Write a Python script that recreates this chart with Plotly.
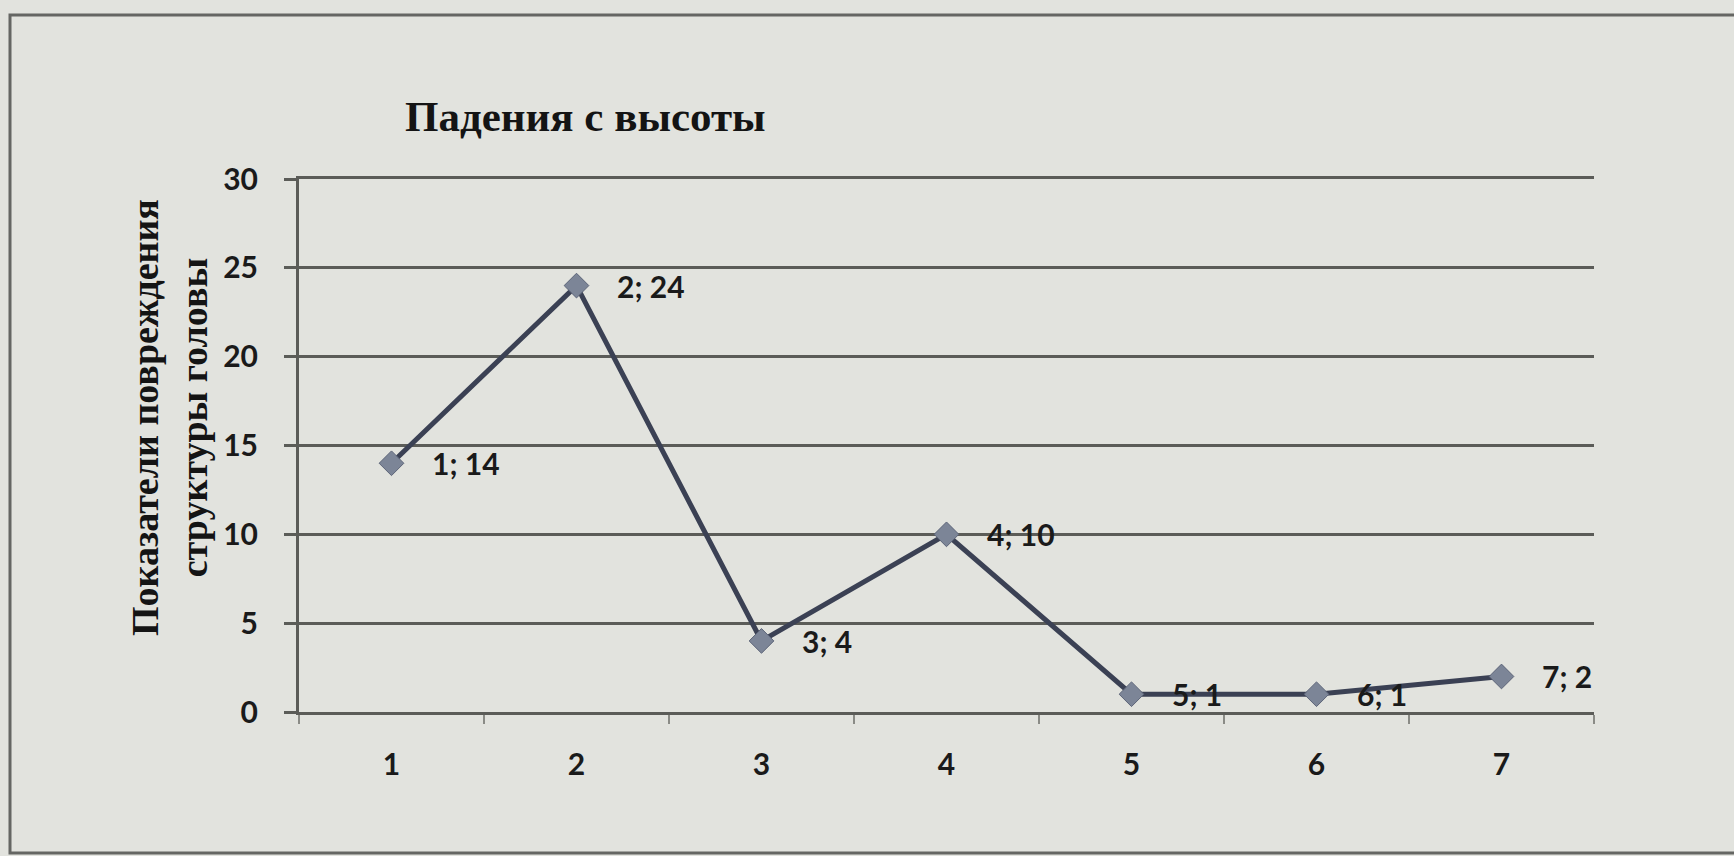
import plotly.graph_objects as go

# Падения с высоты — значения по категориям
categories = [1, 2, 3, 4, 5, 6, 7]
values = [14, 24, 4, 10, 1, 1, 2]
labels = [f"{c}; {v}" for c, v in zip(categories, values)]
y_ticks = [0, 5, 10, 15, 20, 25, 30]

title_text = "Падения с высоты"
y_title_text = "Показатели повреждения<br>структуры головы"

W, H = 1734, 856
L, R, T, B = 299, 140, 179, 144
plot_w = W - L - R
plot_h = H - T - B


def px_x(p):
    return (p - L) / plot_w


def px_y(p):
    return (H - B - p) / plot_h


bg = "#e2e3de"
grid = "#5b5c58"
sans = "Lato"
serif = "Liberation Serif"

fig = go.Figure()
fig.add_trace(go.Scatter(
    x=categories,
    y=values,
    mode="lines+markers",
    line=dict(color="#3b4154", width=5),
    marker=dict(symbol="diamond", size=19, color="#7c8597",
                line=dict(color="#5c6478", width=1)),
    hoverinfo="skip",
    showlegend=False,
))

for c, v, t in zip(categories, values, labels):
    fig.add_annotation(
        x=c, y=v, xref="x", yref="y", text=f"<b>{t}</b>",
        showarrow=False, xanchor="left", yanchor="middle", xshift=38,
        font=dict(family=sans, size=30, color="#1a1a1a"),
    )

fig.add_annotation(
    x=px_x(585), y=px_y(116), xref="paper", yref="paper",
    text=f"<b>{title_text}</b>", showarrow=False,
    xanchor="center", yanchor="middle",
    font=dict(family=serif, size=43, color="#141414"),
)

fig.add_annotation(
    x=px_x(169), y=px_y(418), xref="paper", yref="paper",
    text=f"<b>{y_title_text}</b>", showarrow=False, textangle=-90,
    xanchor="center", yanchor="middle", align="center",
    font=dict(family=serif, size=38, color="#141414"),
)

# outer chart border
fig.add_shape(
    type="rect", xref="paper", yref="paper",
    x0=px_x(10), x1=px_x(1760), y0=px_y(853), y1=px_y(15),
    line=dict(color="#656663", width=3), fillcolor="rgba(0,0,0,0)",
    layer="below",
)

fig.update_layout(
    width=W, height=H,
    margin=dict(l=L, r=R, t=T, b=B, autoexpand=False),
    paper_bgcolor=bg, plot_bgcolor=bg,
    xaxis=dict(
        range=[0.5, 7.5], tickvals=categories, ticktext=[str(c) for c in categories],
        showgrid=False, zeroline=False, ticks="",
        showline=True, linecolor=grid, linewidth=3, mirror=True,
        ticklabelstandoff=24,
        tickfont=dict(family=sans, size=30, color="#1a1a1a", weight="bold"),
        minor=dict(tickvals=[0.5, 1.5, 2.5, 3.5, 4.5, 5.5, 6.5, 7.5],
                   ticks="outside", ticklen=9, tickcolor="#8a8b86", tickwidth=2),
        fixedrange=True,
    ),
    yaxis=dict(
        range=[0, 30], tickvals=y_ticks,
        showgrid=True, gridcolor=grid, gridwidth=3,
        zeroline=False, showline=True, linecolor=grid, linewidth=3,
        ticks="outside", ticklen=12, tickcolor=grid, tickwidth=3,
        ticklabelstandoff=20,
        tickfont=dict(family=sans, size=30, color="#1a1a1a", weight="bold"),
        fixedrange=True,
    ),
)

fig.write_html("out.html", config={"displayModeBar": False})
